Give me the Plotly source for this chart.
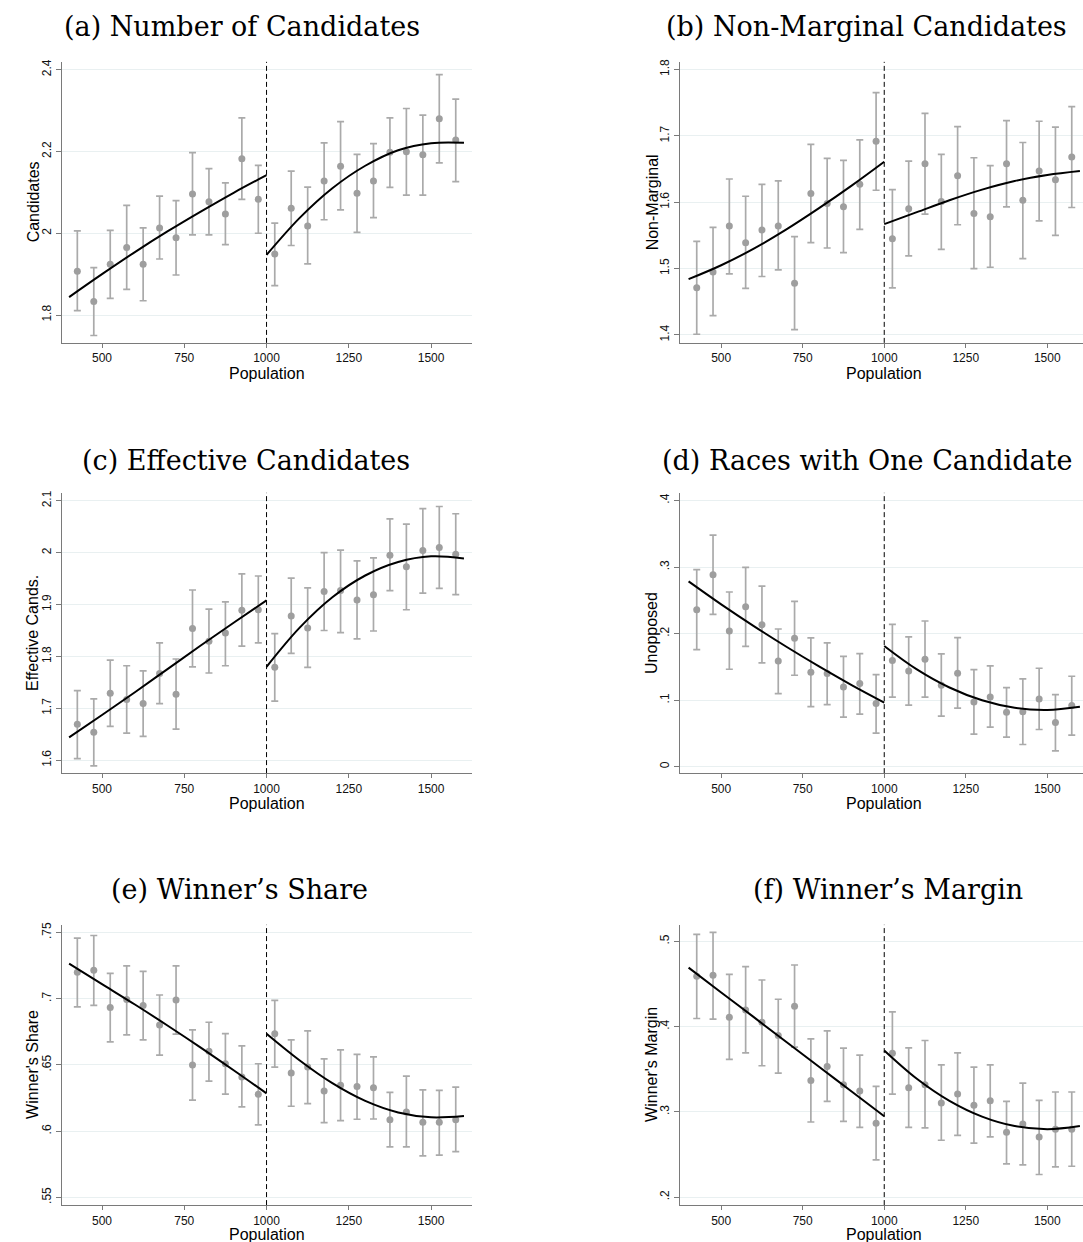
import plotly.graph_objects as go

# ---- bin centres (population) and fit grids ----
bins = [425, 475, 525, 575, 625, 675, 725, 775, 825, 875, 925, 975,
        1025, 1075, 1125, 1175, 1225, 1275, 1325, 1375, 1425, 1475, 1525, 1575]
fit_x_left = [400, 500, 600, 700, 800, 900, 1000]
fit_x_right = [1000, 1100, 1200, 1300, 1400, 1500, 1600]

x_tickvals = [500, 750, 1000, 1250, 1500]
x_ticktext = ["500", "750", "1000", "1250", "1500"]

# ---- (a) Number of Candidates ----
cand_mean = [1.907, 1.833, 1.924, 1.965, 1.924, 2.013, 1.989, 2.096, 2.077, 2.047, 2.182, 2.083,
             1.949, 2.061, 2.018, 2.128, 2.164, 2.098, 2.128, 2.198, 2.199, 2.192, 2.280, 2.228]
cand_hi = [2.006, 1.916, 2.007, 2.068, 2.013, 2.091, 2.080, 2.197, 2.158, 2.123, 2.282, 2.166,
           2.025, 2.152, 2.113, 2.221, 2.273, 2.193, 2.219, 2.282, 2.305, 2.289, 2.388, 2.328]
cand_lo = [1.811, 1.750, 1.841, 1.863, 1.835, 1.937, 1.898, 1.996, 1.996, 1.972, 2.083, 2.000,
           1.872, 1.970, 1.925, 2.033, 2.057, 2.002, 2.038, 2.112, 2.093, 2.093, 2.172, 2.126]
cand_fit_left = [1.844, 1.900, 1.954, 2.005, 2.053, 2.099, 2.142]
cand_fit_right = [1.947, 2.037, 2.110, 2.165, 2.203, 2.220, 2.221]
cand_yticks = [1.8, 2.0, 2.2, 2.4]
cand_ylabels = ["1.8", "2", "2.2", "2.4"]

# ---- (b) Non-Marginal Candidates ----
nonmarg_mean = [1.471, 1.495, 1.564, 1.539, 1.558, 1.564, 1.478, 1.613, 1.598, 1.593, 1.627, 1.692,
                1.545, 1.590, 1.658, 1.601, 1.640, 1.583, 1.578, 1.658, 1.603, 1.647, 1.634, 1.668]
nonmarg_hi = [1.541, 1.562, 1.635, 1.609, 1.627, 1.632, 1.548, 1.687, 1.666, 1.663, 1.694, 1.765,
              1.619, 1.662, 1.734, 1.672, 1.714, 1.667, 1.655, 1.723, 1.690, 1.722, 1.713, 1.744]
nonmarg_lo = [1.401, 1.429, 1.492, 1.470, 1.488, 1.498, 1.408, 1.539, 1.531, 1.524, 1.559, 1.618,
              1.471, 1.519, 1.582, 1.529, 1.566, 1.500, 1.502, 1.593, 1.515, 1.572, 1.550, 1.592]
nonmarg_fit_left = [1.484, 1.505, 1.530, 1.559, 1.591, 1.625, 1.661]
nonmarg_fit_right = [1.567, 1.585, 1.603, 1.619, 1.632, 1.641, 1.647]
nonmarg_yticks = [1.4, 1.5, 1.6, 1.7, 1.8]
nonmarg_ylabels = ["1.4", "1.5", "1.6", "1.7", "1.8"]

# ---- (c) Effective Candidates ----
eff_mean = [1.669, 1.654, 1.729, 1.717, 1.709, 1.767, 1.727, 1.854, 1.829, 1.845, 1.889, 1.890,
            1.779, 1.878, 1.855, 1.925, 1.927, 1.909, 1.919, 1.995, 1.973, 2.004, 2.010, 1.997]
eff_hi = [1.734, 1.718, 1.793, 1.782, 1.772, 1.826, 1.795, 1.928, 1.891, 1.905, 1.959, 1.955,
          1.844, 1.951, 1.932, 2.000, 2.005, 1.984, 1.990, 2.065, 2.055, 2.085, 2.089, 2.075]
eff_lo = [1.603, 1.589, 1.665, 1.652, 1.646, 1.709, 1.660, 1.780, 1.768, 1.782, 1.820, 1.826,
          1.714, 1.806, 1.779, 1.850, 1.846, 1.834, 1.849, 1.927, 1.890, 1.922, 1.931, 1.919]
eff_fit_left = [1.644, 1.687, 1.731, 1.776, 1.821, 1.865, 1.908]
eff_fit_right = [1.780, 1.855, 1.914, 1.956, 1.982, 1.993, 1.989]
eff_yticks = [1.6, 1.7, 1.8, 1.9, 2.0, 2.1]
eff_ylabels = ["1.6", "1.7", "1.8", "1.9", "2", "2.1"]

# ---- (d) Races with One Candidate ----
unopp_mean = [0.236, 0.2885, 0.204, 0.2405, 0.2135, 0.159, 0.193, 0.142, 0.140, 0.120, 0.125, 0.095,
              0.1595, 0.144, 0.1615, 0.1225, 0.1405, 0.0975, 0.105, 0.082, 0.0825, 0.102, 0.0665, 0.092]
unopp_hi = [0.296, 0.348, 0.2625, 0.2995, 0.2715, 0.207, 0.2485, 0.1935, 0.186, 0.166, 0.170, 0.1385,
            0.214, 0.195, 0.219, 0.1695, 0.194, 0.146, 0.1515, 0.119, 0.132, 0.148, 0.1085, 0.136]
unopp_lo = [0.176, 0.229, 0.1465, 0.181, 0.156, 0.110, 0.1375, 0.0905, 0.0935, 0.0745, 0.079, 0.0505,
            0.1045, 0.0925, 0.1045, 0.076, 0.088, 0.049, 0.0595, 0.0445, 0.0335, 0.056, 0.024, 0.0475]
unopp_fit_left = [0.2785, 0.2440, 0.2114, 0.1803, 0.1508, 0.1228, 0.0965]
unopp_fit_right = [0.1815, 0.1463, 0.1191, 0.0999, 0.0887, 0.0855, 0.0903]
unopp_yticks = [0.0, 0.1, 0.2, 0.3, 0.4]
unopp_ylabels = ["0", ".1", ".2", ".3", ".4"]

# ---- (e) Winner's Share ----
share_mean = [0.7199, 0.7214, 0.6933, 0.6993, 0.6948, 0.6802, 0.6991, 0.6499, 0.6604, 0.6509, 0.6408, 0.6278,
              0.6735, 0.6439, 0.6484, 0.6303, 0.6346, 0.6338, 0.6328, 0.6087, 0.6145, 0.6067, 0.6067, 0.6087]
share_hi = [0.7457, 0.7477, 0.7191, 0.7247, 0.7206, 0.7028, 0.7247, 0.6765, 0.6822, 0.6737, 0.6644, 0.6509,
            0.6988, 0.6689, 0.6757, 0.6546, 0.6614, 0.6579, 0.6561, 0.6293, 0.6416, 0.6311, 0.6308, 0.6333]
share_lo = [0.6938, 0.6950, 0.6674, 0.6727, 0.6689, 0.6574, 0.6732, 0.6235, 0.6378, 0.6280, 0.6183, 0.6047,
            0.6484, 0.6188, 0.6208, 0.6065, 0.6080, 0.6090, 0.6092, 0.5881, 0.5881, 0.5814, 0.5819, 0.5846]
share_fit_left = [0.7264, 0.7110, 0.6956, 0.6796, 0.6631, 0.6460, 0.6285]
share_fit_right = [0.6735, 0.6535, 0.6362, 0.6228, 0.6141, 0.6105, 0.6115]
share_yticks = [0.55, 0.6, 0.65, 0.7, 0.75]
share_ylabels = [".55", ".6", ".65", ".7", ".75"]

# ---- (f) Winner's Margin ----
margin_mean = [0.459, 0.4602, 0.411, 0.4196, 0.4052, 0.3896, 0.4239, 0.3369, 0.3533, 0.3318, 0.3244, 0.2866,
               0.3689, 0.3283, 0.3318, 0.3104, 0.3209, 0.3077, 0.3131, 0.2760, 0.2858, 0.2706, 0.2796, 0.2796]
margin_hi = [0.5082, 0.5105, 0.4614, 0.4703, 0.4547, 0.4321, 0.4723, 0.3857, 0.3950, 0.3748, 0.3666, 0.3299,
             0.4173, 0.3751, 0.3837, 0.3552, 0.3693, 0.3525, 0.3552, 0.3123, 0.3338, 0.3135, 0.3233, 0.3233]
margin_lo = [0.4095, 0.4087, 0.3615, 0.3693, 0.3541, 0.3455, 0.3759, 0.2881, 0.3123, 0.2889, 0.2819, 0.2437,
             0.3209, 0.2819, 0.2811, 0.2667, 0.2725, 0.2632, 0.2706, 0.2390, 0.2378, 0.2265, 0.2355, 0.2362]
margin_fit_left = [0.4692, 0.4401, 0.4111, 0.3820, 0.3529, 0.3239, 0.2948]
margin_fit_right = [0.3720, 0.3388, 0.3129, 0.2944, 0.2833, 0.2796, 0.2833]
margin_yticks = [0.2, 0.3, 0.4, 0.5]
margin_ylabels = [".2", ".3", ".4", ".5"]

# ---- panel assembly ----
W, H = 1083, 1242

def px_x(p):
    return p / W

def px_y(p):
    return 1 - p / H

# geometry (pixels): x domain per column, y domain per row
col_dom = [(61.7, 471.7), (680.0, 1083.0)]
col_xrange = [(377.5, 1623.5), (373.7, 1609.5)]
row_dom = [(59.0, 340.7), (491.0, 772.0), (924.0, 1205.0)]
title_y = [24, 459, 889]
xtitle_y = [371, 802, 1234]
ytitle_x = [33, 652]

panels = [
    ("(a) Number of Candidates", "Candidates", cand_mean, cand_lo, cand_hi, cand_fit_left, cand_fit_right,
     cand_yticks, cand_ylabels, (1.732, 2.419), 242),
    ("(b) Non-Marginal Candidates", "Non-Marginal", nonmarg_mean, nonmarg_lo, nonmarg_hi, nonmarg_fit_left,
     nonmarg_fit_right, nonmarg_yticks, nonmarg_ylabels, (1.388, 1.8115), 866),
    ("(c) Effective Candidates", "Effective Cands.", eff_mean, eff_lo, eff_hi, eff_fit_left, eff_fit_right,
     eff_yticks, eff_ylabels, (1.575, 2.1154), 246),
    ("(d) Races with One Candidate", "Unopposed", unopp_mean, unopp_lo, unopp_hi, unopp_fit_left,
     unopp_fit_right, unopp_yticks, unopp_ylabels, (-0.0095, 0.4115), 867),
    ("(e) Winner\u2019s Share", "Winner's Share", share_mean, share_lo, share_hi, share_fit_left,
     share_fit_right, share_yticks, share_ylabels, (0.5442, 0.7558), 239),
    ("(f) Winner\u2019s Margin", "Winner's Margin", margin_mean, margin_lo, margin_hi, margin_fit_left,
     margin_fit_right, margin_yticks, margin_ylabels, (0.1906, 0.5195), 888),
]

fig = go.Figure()
annotations = []
shapes = []
layout_axes = {}

POINT_COLOR = "#9e9e9e"
BAR_COLOR = "#aaaaaa"
AXIS_COLOR = "#7a7a7a"
GRID_COLOR = "#e9f0f1"
TICK_FONT = dict(family="Liberation Sans, Arial, sans-serif", size=12, color="#111111")
LABEL_FONT = dict(family="Liberation Sans, Arial, sans-serif", size=16, color="#000000")
TITLE_FONT = dict(family="DejaVu Serif, serif", size=27, color="#000000")

for i, (title, ylab, mean, lo, hi, fit_l, fit_r, yticks, ylabels, yrange, title_x) in enumerate(panels):
    row, col = divmod(i, 2)
    n = i + 1
    xa = "x" if n == 1 else f"x{n}"
    ya = "y" if n == 1 else f"y{n}"

    fig.add_trace(go.Scatter(
        x=bins, y=mean, mode="markers", xaxis=xa, yaxis=ya,
        marker=dict(color=POINT_COLOR, size=7),
        error_y=dict(type="data", symmetric=False,
                     array=[h - m for h, m in zip(hi, mean)],
                     arrayminus=[m - l for m, l in zip(mean, lo)],
                     color=BAR_COLOR, thickness=1.7, width=3.5),
        showlegend=False, hoverinfo="skip"))
    for fx, fy in ((fit_x_left, fit_l), (fit_x_right, fit_r)):
        fig.add_trace(go.Scatter(
            x=fx, y=fy, mode="lines", xaxis=xa, yaxis=ya,
            line=dict(color="#000000", width=2, shape="spline", smoothing=1.0),
            showlegend=False, hoverinfo="skip"))

    xd = col_dom[col]
    yd = row_dom[row]
    xkey = "xaxis" if n == 1 else f"xaxis{n}"
    ykey = "yaxis" if n == 1 else f"yaxis{n}"
    layout_axes[xkey] = dict(
        domain=[px_x(xd[0]), min(1.0, px_x(xd[1]))], range=list(col_xrange[col]), anchor=ya,
        tickvals=x_tickvals, ticktext=x_ticktext, tickfont=TICK_FONT,
        showgrid=False, zeroline=False, showline=True, linecolor=AXIS_COLOR, linewidth=1.2,
        ticks="outside", ticklen=4, tickwidth=1, tickcolor=AXIS_COLOR)
    layout_axes[ykey] = dict(
        domain=[px_y(yd[1]), px_y(yd[0])], range=list(yrange), anchor=xa,
        tickvals=yticks, ticktext=ylabels, tickangle=-90, tickfont=TICK_FONT,
        showgrid=True, gridcolor=GRID_COLOR, gridwidth=1, zeroline=False,
        showline=True, linecolor=AXIS_COLOR, linewidth=1.2,
        ticks="outside", ticklen=5, tickwidth=1, tickcolor=AXIS_COLOR)

    # cutoff at 1000
    shapes.append(dict(type="line", xref=xa, yref=f"{ya} domain", x0=1000, x1=1000, y0=0, y1=1,
                       line=dict(color="#000000", width=1, dash="5px,3px")))

    annotations.append(dict(text=title, xref="paper", yref="paper", x=px_x(title_x), y=px_y(title_y[row]),
                            xanchor="center", yanchor="middle", showarrow=False, font=TITLE_FONT))
    annotations.append(dict(text="Population", xref=xa, yref="paper", x=1000, y=px_y(xtitle_y[row]),
                            xanchor="center", yanchor="middle", showarrow=False, font=LABEL_FONT))
    annotations.append(dict(text=ylab, xref="paper", yref="paper", x=px_x(ytitle_x[col]),
                            y=px_y((yd[0] + yd[1]) / 2), textangle=-90,
                            xanchor="center", yanchor="middle", showarrow=False, font=LABEL_FONT))

fig.update_layout(
    width=W, height=H, margin=dict(l=0, r=0, t=0, b=0),
    paper_bgcolor="white", plot_bgcolor="white",
    annotations=annotations, shapes=shapes, **layout_axes)

fig.write_html("out.html")
